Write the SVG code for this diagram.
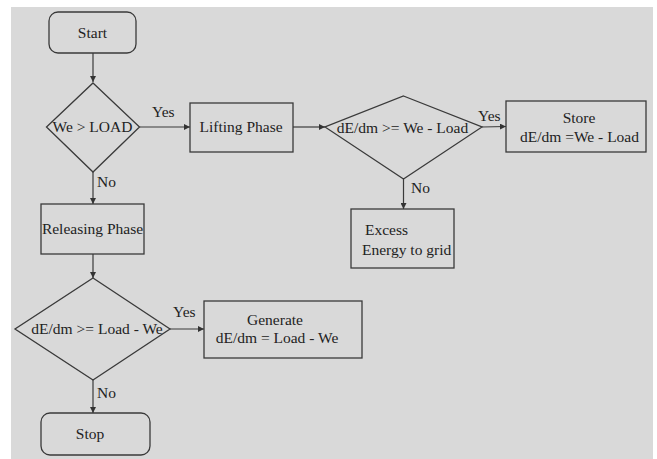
<svg xmlns="http://www.w3.org/2000/svg" width="657" height="459" viewBox="0 0 657 459">
<defs>
<marker id="ah" viewBox="0 0 8 8" refX="8" refY="4" markerWidth="6" markerHeight="6" markerUnits="userSpaceOnUse" orient="auto">
<path d="M0,0 L8,4 L0,8 z" fill="#333"/>
</marker>
<style>
.bg{fill:#d9d9d9}
.shape{fill:#d9d9d9;stroke:#3a3a3a;stroke-width:1.3}
.conn{stroke:#3a3a3a;stroke-width:1.2;fill:none;marker-end:url(#ah)}
text{font-family:"Liberation Serif","Tinos","Times New Roman","DejaVu Serif",serif;font-size:15.5px;fill:#222}
.c{text-anchor:middle}
</style>
</defs>
<rect x="0" y="0" width="657" height="459" fill="#ffffff"/>
<rect class="bg" x="11" y="7" width="642" height="452"/>
<g id="connectors">
<line class="conn" x1="93" y1="53" x2="93" y2="82"/>
<line class="conn" x1="139.5" y1="127" x2="190" y2="127"/>
<line class="conn" x1="293" y1="127" x2="325" y2="127"/>
<line class="conn" x1="482" y1="127" x2="506" y2="126.5"/>
<line class="conn" x1="403.5" y1="179" x2="403.5" y2="209"/>
<line class="conn" x1="93" y1="172" x2="93" y2="204"/>
<line class="conn" x1="93" y1="254" x2="93" y2="278"/>
<line class="conn" x1="170" y1="329" x2="204" y2="329"/>
<line class="conn" x1="93" y1="380" x2="93" y2="413"/>
<text x="152" y="117">Yes</text>
<text x="478" y="121">Yes</text>
<text x="173" y="317">Yes</text>
<text x="97" y="187">No</text>
<text x="411" y="193">No</text>
<text x="97" y="398">No</text>
</g>
<g id="start">
<rect class="shape" x="49" y="12" width="87" height="41" rx="9"/>
<text class="c" x="92.5" y="38">Start</text>
</g>
<g id="decision1">
<polygon class="shape" points="93,83 139.5,127 93,172 46.5,127"/>
<text class="c" x="92.5" y="132">We &gt; LOAD</text>
</g>
<g id="lifting">
<rect class="shape" x="190" y="103" width="103" height="49"/>
<text class="c" x="241" y="132">Lifting Phase</text>
</g>
<g id="decision2">
<polygon class="shape" points="403.5,96 482,127 403.5,179 325,127"/>
<text class="c" x="402.5" y="133">dE/dm &gt;= We - Load</text>
</g>
<g id="store">
<rect class="shape" x="506" y="101" width="140" height="51"/>
<text class="c" x="579" y="123">Store</text>
<text class="c" x="579.5" y="142">dE/dm =We - Load</text>
</g>
<g id="excess">
<rect class="shape" x="351" y="209" width="103" height="59"/>
<text x="365" y="235">Excess</text>
<text x="362" y="255">Energy to grid</text>
</g>
<g id="releasing">
<rect class="shape" x="41" y="204" width="103" height="50"/>
<text class="c" x="92.5" y="234">Releasing Phase</text>
</g>
<g id="decision3">
<polygon class="shape" points="93,278 170,329 93,380 15,329"/>
<text class="c" x="97" y="334">dE/dm &gt;= Load - We</text>
</g>
<g id="generate">
<rect class="shape" x="204" y="301" width="158" height="57"/>
<text class="c" x="275" y="325">Generate</text>
<text class="c" x="277" y="343">dE/dm = Load - We</text>
</g>
<g id="stop">
<rect class="shape" x="41" y="413" width="109" height="42" rx="9"/>
<text class="c" x="90" y="439">Stop</text>
</g>
</svg>
